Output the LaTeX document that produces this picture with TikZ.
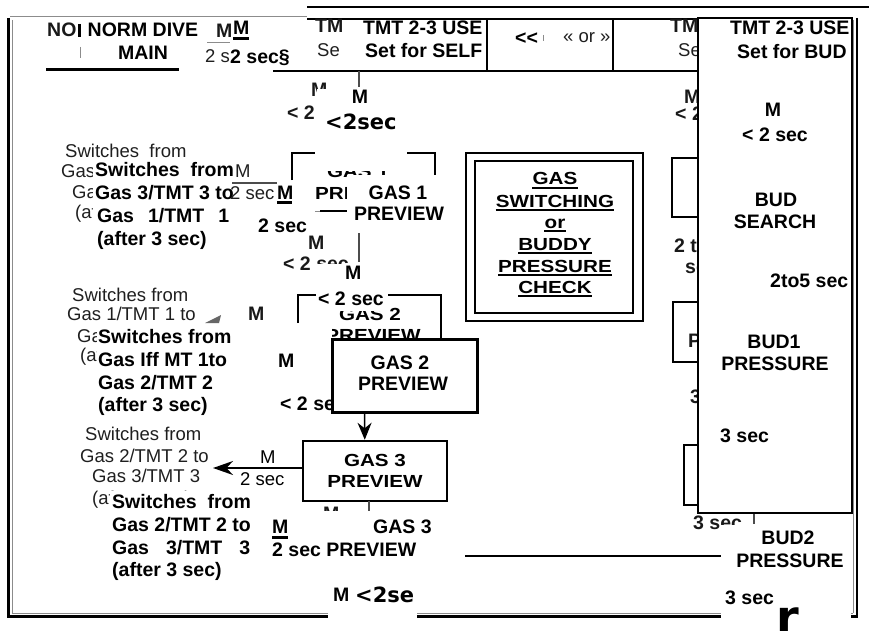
\documentclass[tikz,border=0pt]{standalone}
\usepackage{fontspec}
\usepackage{graphicx}
\setmainfont{Liberation Sans}
\newfontfamily\djv{DejaVu Sans}
\usetikzlibrary{arrows.meta}
\newcommand\wide[1]{\scalebox{1.18}[1]{#1}}
\tikzset{
  tx/.style={inner sep=0pt, font=\bfseries\fontsize{19.5}{23}\selectfont},
  bgr/.style={inner sep=0pt, font=\fontsize{18.5}{22}\selectfont, text=black!88},
  bgb/.style={inner sep=0pt, font=\bfseries\fontsize{19.5}{23}\selectfont, text=black!90},
  wb/.style={inner sep=0pt, font=\bfseries\fontsize{17.5}{20}\selectfont},
  dj/.style={inner sep=0pt, font=\djv\bfseries\fontsize{21}{25}\selectfont},
  ln/.style={line width=2.5pt},
  hair/.style={line width=1.2pt, black!70},
  pale/.style={line width=1pt, black!45},
  patch/.style={fill=white},
  boxed/.style={draw, fill=white, inner sep=0pt},
}
\begin{document}
\begin{tikzpicture}[x=1pt,y=-1pt]
\useasboundingbox (0,0) rectangle (869,631);
\fill[white] (0,0) rectangle (869,631);

% ---------- outer frame ----------
\draw[pale] (10,17) -- (307,17);
\draw[ln] (307,7) -- (869,7);
\draw[ln] (8.5,18) -- (8.5,616.5) -- (328,616.5);
\draw[pale] (12,20) -- (12,613) -- (328,613);
\draw[ln] (417,616.5) -- (858,616.5);
\draw[pale] (417,613) -- (853,613);
\draw[line width=2pt] (857,18) -- (857,617.5);
\draw[pale] (853,20) -- (853,613);

% ---------- header ----------
\draw[line width=2pt] (307,19) -- (698,19);
\draw[line width=2pt] (273,71) -- (698,71);
\draw[ln] (487,19) -- (487,70);
\draw[line width=2pt] (613,19) -- (613,70);

\node[bgb, anchor=base west] (no) at (47,37) {NO};
\draw[ln] (79.5,24) -- (79.5,37);
\draw[pale] (80,47) -- (80,58);
\node[tx, anchor=base] (norm) at (143,37) {NORM DIVE};
\node[tx, anchor=base] (main) at (143,60) {MAIN};
\draw[line width=3pt] (46,70) -- (179,70);

\node[bgb, anchor=base west] (m0) at (216,38) {M};
\draw[pale] (207,43) -- (230,43);
\node[bgr, anchor=base west] (s0) at (205,63) {2 s};
\fill[patch] (231,20) rectangle (300,68);
\node[tx, anchor=base west] (m1) at (233,35) {M};
\draw[ln] (233,38.5) -- (249,38.5);
\node[tx, anchor=base west] (sec0) at (230,64) {2 sec§};

\node[bgb, anchor=base west] (tm1) at (315,33) {TM};
\node[bgr, anchor=base west] (se1) at (317,57) {Se};
\node[tx, anchor=base west] (tmt1) at (363,35) {TMT 2-3 USE};
\node[tx, anchor=base west] (self) at (365,58) {Set for SELF};
\node[tx, anchor=base west] (ll) at (515,45) {<{}<};
\draw[pale] (543,35) -- (543,41);
\node[bgr, anchor=base west] (lg) at (563,43) {« or »};
\node[bgb, anchor=base west] (tm2) at (670,33) {TM};
\node[bgr, anchor=base west] (se2) at (678,57) {Se};
\draw[hair] (359,71) -- (359,87);

% ---------- row 2 ----------
\node[bgb, anchor=base west] (m2) at (311,97) {M};
\node[bgb, anchor=base west] (lt2a) at (287,120) {< 2};
\node[bgb, anchor=base west] (m3) at (684,104) {M};
\node[bgb, anchor=base west] (lt2b) at (675,121) {< 2};
\fill[patch] (317,89) rectangle (402,138);
\node[tx, anchor=base] (m4) at (360,104) {M};
\node[dj, anchor=base west] (lt2c) at (325,130) {<2sec};

% ---------- GAS 1 ----------
\draw[ln] (292,180) -- (292,153) -- (435,153) -- (435,177);
\node[wb, anchor=base] (g1bg) at (358,178) {\wide{GAS 1}};
\fill[patch] (315,146) rectangle (407,171);
\node[wb, anchor=base west] (pre1) at (315,199) {\wide{PRE}};
\fill[patch] (347,175) rectangle (452,226);
\draw[pale] (300,211) -- (320,211);
\draw[line width=2pt] (320,211) -- (347,211);
\node[tx, anchor=base] (g1a) at (398,199) {GAS 1};
\node[tx, anchor=base] (g1b) at (399,220) {PREVIEW};

\node[bgr, anchor=base west] (sw1a) at (65,158) {Switches\ \ from};
\node[bgr, anchor=base west] (sw1b) at (61,178) {Gas 3};
\node[bgr, anchor=base west] (sw1c) at (72,198) {Gas};
\node[bgr, anchor=base west] (sw1d) at (75,218) {(af};
\fill[patch] (93,162) rectangle (232,250);
\node[tx, anchor=base west] (ov1a) at (95,176) {Switches\ \ from};
\node[tx, anchor=base west] (ov1b) at (95,199) {Gas 3/TMT 3 to};
\node[tx, anchor=base west] (ov1c) at (97,222) {Gas\hspace{14pt}1/TMT\hspace{14pt}1};
\node[tx, anchor=base west] (ov1d) at (97,245) {(after 3 sec)};

\node[bgr, anchor=base west] (fm1) at (235,178) {M};
\draw[hair] (232,183) -- (277,183);
\node[bgr, anchor=base west] (fs1) at (230,199) {2 sec};
\fill[patch] (275,184) rectangle (302,206);
\fill[patch] (256,206) rectangle (315,236);
\node[tx, anchor=base west] (m5) at (277,199) {M};
\draw[ln] (277,202.5) -- (292,202.5);
\node[tx, anchor=base west] (s5) at (258,232) {2 sec};

\draw[hair] (359,233) -- (359,262);
\node[bgb, anchor=base west] (m6) at (308,249) {M};
\node[bgb, anchor=base west] (lt6) at (283,270) {< 2 sec};
\fill[patch] (315,264) rectangle (392,285);

% ---------- GAS 2 ----------
\draw[ln] (298,323) -- (298,295) -- (441,295) -- (441,339);
\node[wb, anchor=base] (g2bga) at (370,320) {\wide{GAS 2}};
\node[wb, anchor=base] (g2bgb) at (373,341) {\wide{PREVIEW}};
\fill[patch] (316,286) rectangle (388,311);
\node[tx, anchor=base west] (lt7) at (318,305) {< 2 sec};
\node[tx, anchor=base west] (m7) at (345,279) {M};

\node[bgr, anchor=base west] (sw2a) at (72,301) {Switches from};
\node[bgr, anchor=base west] (sw2b) at (67,320) {Gas 1/TMT 1 to};
\node[bgr, anchor=base west] (sw2c) at (77,342) {Gas};
\node[bgr, anchor=base west] (sw2d) at (80,361) {(af};
\fill[black!60] (205,323) -- (221,315) -- (219,323) -- cycle;
\node[bgb, anchor=base west] (m8) at (248,320) {M};
\fill[patch] (97,325) rectangle (332,420);
\node[tx, anchor=base west] (ov2a) at (98,343) {Switches from};
\node[tx, anchor=base west] (ov2b) at (98,366) {Gas Iff MT 1to};
\node[tx, anchor=base west] (ov2c) at (98,389) {Gas 2/TMT 2};
\node[tx, anchor=base west] (ov2d) at (98,411) {(after 3 sec)};
\node[tx, anchor=base west] (m9) at (278,367) {M};
\node[tx, anchor=base west] (lt9) at (280,410) {< 2 sec};

\node[boxed, line width=3pt, minimum width=145pt, minimum height=73pt] (g2) at (404.5,375.5) {};
\node[tx, anchor=base] (g2a) at (400,369) {GAS 2};
\node[tx, anchor=base] (g2b) at (403,390) {PREVIEW};

% ---------- GAS 3 ----------
\node[boxed, line width=2.5pt, minimum width=144pt, minimum height=60pt] (g3) at (375,471) {};
\node[wb, anchor=base] (g3a) at (375,466) {\wide{GAS 3}};
\node[wb, anchor=base] (g3b) at (375,487) {\wide{PREVIEW}};
\draw[line width=1.5pt, -{Stealth[length=17pt,width=14pt]}] ([xshift=34pt]g2.south west) -- ([xshift=63pt]g3.north west);
\coordinate (tip3) at (213,468);
\draw[line width=1.5pt, -{Stealth[length=20pt,width=14pt]}] ([yshift=3pt]g3.west) -- (tip3);
\node[bgr, anchor=base west, text=black] (m10) at (260,463) {M};
\node[bgr, anchor=base west, text=black] (s10) at (240,485) {2 sec};

\node[bgr, anchor=base west] (sw3a) at (85,440) {Switches from};
\node[bgr, anchor=base west] (sw3b) at (80,462) {Gas 2/TMT 2 to};
\node[bgr, anchor=base west] (sw3c) at (92,482) {Gas 3/TMT 3};
\node[bgr, anchor=base west] (sw3d) at (92,504) {(after 3 sec)};
\draw[hair] (369,501) -- (369,511);
\node[bgb, anchor=base west] (m11) at (323,520) {M};
\fill[patch] (110,491) rectangle (262,582);
\fill[patch] (262,511) rectangle (440,560);
\node[tx, anchor=base west] (ov3a) at (112,508) {Switches\ \ from};
\node[tx, anchor=base west] (ov3b) at (112,531) {Gas 2/TMT 2 to};
\node[tx, anchor=base west] (ov3c) at (112,554) {Gas\hspace{17pt}3/TMT\hspace{17pt}3};
\node[tx, anchor=base west] (ov3d) at (112,576) {(after 3 sec)};
\node[tx, anchor=base west] (m12) at (272,533) {M};
\draw[line width=3pt] (272,537) -- (288,537);
\node[tx, anchor=base west] (s12) at (272,556) {2 sec PREVIEW};
\node[tx, anchor=base west] (g3c) at (373,533) {GAS 3};

\fill[patch] (328,566) rectangle (417,631);
\node[tx, anchor=base west] (m13) at (333,601) {M};
\node[dj, anchor=base west] (lt13) at (355,602) {<2se};

\draw[line width=2pt] (465,556) -- (723,556);

% ---------- GAS SWITCHING box ----------
\draw[ln] (466,153) rectangle (643,321);
\draw[line width=2pt] (475,161) rectangle (633,313);
\foreach \t/\yy/\nm in {GAS/185/gs1, SWITCHING/207/gs2, or/228/gs3, BUDDY/250/gs4, PRESSURE/272/gs5, CHECK/293/gs6}{
  \node[wb, anchor=base] (\nm) at (555,\yy) {\wide{\t}};
  \draw[line width=2pt] ([yshift=-2.5pt]\nm.base west) -- ([yshift=-2.5pt]\nm.base east);
}

% ---------- BUD side ----------
\draw[line width=2pt] (700,158) -- (672,158) -- (672,217) -- (700,217);
\draw[line width=2pt] (700,302) -- (673,302) -- (673,362) -- (700,362);
\draw[line width=2pt] (700,445) -- (684,445) -- (684,505) -- (700,505);
\node[bgb, anchor=base west] (b2t) at (674,252) {2 t};
\node[bgb, anchor=base west] (bs) at (685,273) {se};
\node[bgb, anchor=base west] (bp) at (688,347) {P};
\node[bgb, anchor=base west] (b3) at (690,403) {3 s};
\node[bgb, anchor=base west] (b3s) at (693,529) {3 sec};
\draw[hair] (754,513) -- (754,524);

\node[boxed, line width=2.5pt, minimum width=154pt, minimum height=495pt] (bud) at (775,265.5) {};
\node[tx, anchor=base west] (bt1) at (730,35) {TMT 2-3 USE};
\node[tx, anchor=base west] (bt2) at (737,59) {Set for BUD};
\node[tx, anchor=base] (bm) at (773,117) {M};
\node[tx, anchor=base west] (bl) at (742,142) {< 2 sec};
\node[tx, anchor=base] (bs1) at (776,206) {BUD};
\node[tx, anchor=base] (bs2) at (775,228) {SEARCH};
\node[tx, anchor=base west] (b25) at (770,287) {2to5 sec};
\node[tx, anchor=base] (bp1) at (774,348) {BUD1};
\node[tx, anchor=base] (bp2) at (775,370) {PRESSURE};
\node[tx, anchor=base west] (b3a) at (720,442) {3 sec};

\fill[patch] (721,525) rectangle (851,631);
\node[tx, anchor=base] (bq1) at (788,544) {BUD2};
\node[tx, anchor=base] (bq2) at (790,567) {PRESSURE};
\node[tx, anchor=base west] (b3b) at (725,604) {3 sec};
\node[inner sep=0pt, anchor=base west, font=\djv\bfseries\fontsize{46}{50}\selectfont] (rr) at (776,633) {r};
\end{tikzpicture}
\end{document}
